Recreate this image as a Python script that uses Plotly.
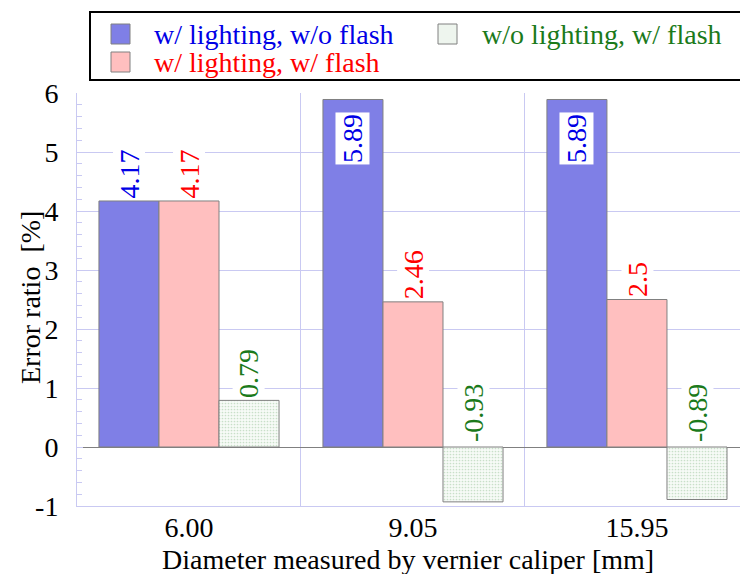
import plotly.graph_objects as go

categories = ["6.00", "9.05", "15.95"]
series_names = ["w/ lighting, w/o flash", "w/ lighting, w/ flash", "w/o lighting, w/ flash"]
lit_noflash = [4.17, 5.89, 5.89]
lit_flash = [4.17, 2.46, 2.5]
nolit_flash = [0.79, -0.93, -0.89]
label_text = [["4.17", "5.89", "5.89"], ["4.17", "2.46", "2.5"], ["0.79", "-0.93", "-0.89"]]
y_tick_vals = [-1, 0, 1, 2, 3, 4, 5, 6]
y_tick_text = ["-1", "0", "1", "2", "3", "4", "5", "6"]
x_title = "Diameter measured by vernier caliper [mm]"
y_title = "Error ratio\u00a0 [%]"

FONT = "Liberation Serif, Times New Roman, serif"
FS = 28
GRID = "#c9c9f2"
bar_fill = ["#7f7fe6", "#ffbfbf", "#f1f7f1"]
text_col = ["#0000e6", "#ff0000", "#1b7a1b"]

W, H = 740, 574
L, R, T, B = 77, 0, 93, 68
PW, PH = W - L - R, H - T - B


def px(x):
    return (x - L) / PW


def py(y):
    return (H - B - y) / PH


fig = go.Figure()
all_series = [lit_noflash, lit_flash, nolit_flash]
for i, vals in enumerate(all_series):
    marker = dict(color=bar_fill[i], line=dict(color="#808080", width=1))
    if i == 2:
        marker["pattern"] = dict(shape=".", size=3, solidity=0.25,
                                 fgcolor="#c9dfc9", bgcolor="#f7fbf7", fillmode="replace")
    fig.add_trace(go.Bar(x=categories, y=vals, name=series_names[i], marker=marker,
                         showlegend=False))

# value labels
shifts = [-60, 0, 60]
for i, vals in enumerate(all_series):
    for j, v in enumerate(vals):
        if v > 5.5:
            fig.add_annotation(x=j, y=v, xref="x", yref="y", xshift=shifts[i],
                               yshift=-12, yanchor="top", text=label_text[i][j], textangle=-90,
                               showarrow=False, bgcolor="white", borderpad=1,
                               font=dict(family=FONT, size=FS, color=text_col[i]))
        else:
            fig.add_annotation(x=j, y=max(v, 0), xref="x", yref="y", xshift=shifts[i],
                               yshift=2 if v >= 0 else 4, yanchor="bottom", text=label_text[i][j],
                               textangle=-90, showarrow=False, bgcolor="white", borderpad=0,
                               font=dict(family=FONT, size=FS, color=text_col[i]))

# legend drawn in paper coordinates
fig.add_shape(type="rect", xref="paper", yref="paper", x0=px(90), x1=px(760), y0=py(80), y1=py(12),
              line=dict(color="black", width=2), fillcolor="white", layer="above")
legend_pos = [(111, 34), (111, 62), (438, 34)]
text_x = [152, 152, 480]
for i in range(3):
    sx, sy = legend_pos[i]
    fig.add_shape(type="rect", xref="paper", yref="paper", x0=px(sx), x1=px(sx + 19),
                  y0=py(sy + 10), y1=py(sy - 10), line=dict(color="#808080", width=1),
                  fillcolor=bar_fill[i] if i < 2 else "#eef5ee", layer="above")
    fig.add_annotation(x=px(text_x[i]), y=py(sy), xref="paper", yref="paper", xanchor="left",
                       yanchor="middle", text=series_names[i], showarrow=False,
                       font=dict(family=FONT, size=FS, color=text_col[i]))

# axis titles
fig.add_annotation(x=px(408), y=py(559), xref="paper", yref="paper", xanchor="center",
                   yanchor="middle", text=x_title, showarrow=False,
                   font=dict(family=FONT, size=FS, color="black"))
fig.add_annotation(x=px(30), y=py(298), xref="paper", yref="paper", xanchor="center",
                   yanchor="middle", text=y_title, textangle=-90, showarrow=False,
                   font=dict(family=FONT, size=FS, color="black"))

fig.update_layout(
    width=W, height=H,
    margin=dict(l=L, r=R, t=T, b=B),
    paper_bgcolor="white", plot_bgcolor="white",
    barmode="group", bargap=0.196, bargroupgap=0,
    font=dict(family=FONT, size=FS, color="black"),
    xaxis=dict(type="category", range=[-0.5, 2.46], tickson="boundaries", showgrid=True,
               gridcolor=GRID, gridwidth=1, ticks="", showline=True, linecolor=GRID,
               ticklabelstandoff=-4, tickfont=dict(family=FONT, size=FS)),
    yaxis=dict(range=[-1, 6], tickvals=y_tick_vals, ticktext=y_tick_text, showgrid=True,
               gridcolor=GRID, gridwidth=1, zeroline=True, zerolinecolor="#808080",
               zerolinewidth=1, showline=True, linecolor=GRID, ticks="inside", ticklen=6,
               tickcolor=GRID, ticklabelstandoff=12,
               minor=dict(dtick=0.2, ticks="inside", ticklen=5, tickcolor=GRID, showgrid=False),
               tickfont=dict(family=FONT, size=FS)),
)

fig.write_html("out.html", config={"displayModeBar": False},
               post_script="document.body.style.margin='0';")
